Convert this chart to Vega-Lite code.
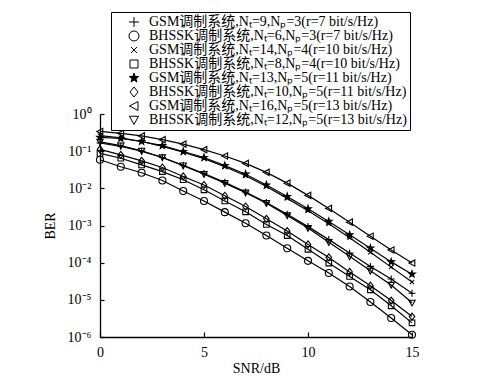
{
  "$schema": "https://vega.github.io/schema/vega-lite/v6.json",
  "autosize": "none",
  "width": 312,
  "height": 223,
  "padding": {"left": 100, "top": 114, "right": 77, "bottom": 42},
  "background": "white",
  "config": {
    "view": {"stroke": null},
    "axis": {
      "domainColor": "black", "tickColor": "black", "labelColor": "black", "titleColor": "black",
      "labelFont": "Liberation Serif", "titleFont": "Liberation Serif",
      "labelFontSize": 14, "titleFontSize": 14, "titleFontWeight": "normal",
      "grid": false, "domainWidth": 1.3, "tickWidth": 1.2
    },
    "legend": {
      "labelFont": "Liberation Serif, Noto Sans CJK SC", "labelFontSize": 14, "labelColor": "black",
      "strokeColor": "black", "fillColor": "white"
    }
  },
  "data": {"values": [
    {"s":"GSM调制系统,Nₜ=9,Nₚ=3(r=7 bit/s/Hz)","x":0,"y":1.66e-1},
    {"s":"GSM调制系统,Nₜ=9,Nₚ=3(r=7 bit/s/Hz)","x":1,"y":1.35e-1},
    {"s":"GSM调制系统,Nₜ=9,Nₚ=3(r=7 bit/s/Hz)","x":2,"y":1.00e-1},
    {"s":"GSM调制系统,Nₜ=9,Nₚ=3(r=7 bit/s/Hz)","x":3,"y":6.76e-2},
    {"s":"GSM调制系统,Nₜ=9,Nₚ=3(r=7 bit/s/Hz)","x":4,"y":4.17e-2},
    {"s":"GSM调制系统,Nₜ=9,Nₚ=3(r=7 bit/s/Hz)","x":5,"y":2.51e-2},
    {"s":"GSM调制系统,Nₜ=9,Nₚ=3(r=7 bit/s/Hz)","x":6,"y":1.45e-2},
    {"s":"GSM调制系统,Nₜ=9,Nₚ=3(r=7 bit/s/Hz)","x":7,"y":7.94e-3},
    {"s":"GSM调制系统,Nₜ=9,Nₚ=3(r=7 bit/s/Hz)","x":8,"y":4.17e-3},
    {"s":"GSM调制系统,Nₜ=9,Nₚ=3(r=7 bit/s/Hz)","x":9,"y":2.00e-3},
    {"s":"GSM调制系统,Nₜ=9,Nₚ=3(r=7 bit/s/Hz)","x":10,"y":9.33e-4},
    {"s":"GSM调制系统,Nₜ=9,Nₚ=3(r=7 bit/s/Hz)","x":11,"y":4.17e-4},
    {"s":"GSM调制系统,Nₜ=9,Nₚ=3(r=7 bit/s/Hz)","x":12,"y":1.82e-4},
    {"s":"GSM调制系统,Nₜ=9,Nₚ=3(r=7 bit/s/Hz)","x":13,"y":7.94e-5},
    {"s":"GSM调制系统,Nₜ=9,Nₚ=3(r=7 bit/s/Hz)","x":14,"y":3.63e-5},
    {"s":"GSM调制系统,Nₜ=9,Nₚ=3(r=7 bit/s/Hz)","x":15,"y":1.51e-5},
    {"s":"BHSSK调制系统,Nₜ=6,Nₚ=3(r=7 bit/s/Hz)","x":0,"y":5.89e-2},
    {"s":"BHSSK调制系统,Nₜ=6,Nₚ=3(r=7 bit/s/Hz)","x":1,"y":3.80e-2},
    {"s":"BHSSK调制系统,Nₜ=6,Nₚ=3(r=7 bit/s/Hz)","x":2,"y":2.63e-2},
    {"s":"BHSSK调制系统,Nₜ=6,Nₚ=3(r=7 bit/s/Hz)","x":3,"y":1.62e-2},
    {"s":"BHSSK调制系统,Nₜ=6,Nₚ=3(r=7 bit/s/Hz)","x":4,"y":8.51e-3},
    {"s":"BHSSK调制系统,Nₜ=6,Nₚ=3(r=7 bit/s/Hz)","x":5,"y":4.57e-3},
    {"s":"BHSSK调制系统,Nₜ=6,Nₚ=3(r=7 bit/s/Hz)","x":6,"y":2.29e-3},
    {"s":"BHSSK调制系统,Nₜ=6,Nₚ=3(r=7 bit/s/Hz)","x":7,"y":1.15e-3},
    {"s":"BHSSK调制系统,Nₜ=6,Nₚ=3(r=7 bit/s/Hz)","x":8,"y":5.37e-4},
    {"s":"BHSSK调制系统,Nₜ=6,Nₚ=3(r=7 bit/s/Hz)","x":9,"y":2.45e-4},
    {"s":"BHSSK调制系统,Nₜ=6,Nₚ=3(r=7 bit/s/Hz)","x":10,"y":1.12e-4},
    {"s":"BHSSK调制系统,Nₜ=6,Nₚ=3(r=7 bit/s/Hz)","x":11,"y":5.25e-5},
    {"s":"BHSSK调制系统,Nₜ=6,Nₚ=3(r=7 bit/s/Hz)","x":12,"y":2.29e-5},
    {"s":"BHSSK调制系统,Nₜ=6,Nₚ=3(r=7 bit/s/Hz)","x":13,"y":8.71e-6},
    {"s":"BHSSK调制系统,Nₜ=6,Nₚ=3(r=7 bit/s/Hz)","x":14,"y":3.24e-6},
    {"s":"BHSSK调制系统,Nₜ=6,Nₚ=3(r=7 bit/s/Hz)","x":15,"y":1.15e-6},
    {"s":"GSM调制系统,Nₜ=14,Nₚ=4(r=10 bit/s/Hz)","x":0,"y":2.63e-1},
    {"s":"GSM调制系统,Nₜ=14,Nₚ=4(r=10 bit/s/Hz)","x":1,"y":2.29e-1},
    {"s":"GSM调制系统,Nₜ=14,Nₚ=4(r=10 bit/s/Hz)","x":2,"y":1.82e-1},
    {"s":"GSM调制系统,Nₜ=14,Nₚ=4(r=10 bit/s/Hz)","x":3,"y":1.35e-1},
    {"s":"GSM调制系统,Nₜ=14,Nₚ=4(r=10 bit/s/Hz)","x":4,"y":9.33e-2},
    {"s":"GSM调制系统,Nₜ=14,Nₚ=4(r=10 bit/s/Hz)","x":5,"y":6.31e-2},
    {"s":"GSM调制系统,Nₜ=14,Nₚ=4(r=10 bit/s/Hz)","x":6,"y":3.80e-2},
    {"s":"GSM调制系统,Nₜ=14,Nₚ=4(r=10 bit/s/Hz)","x":7,"y":2.19e-2},
    {"s":"GSM调制系统,Nₜ=14,Nₚ=4(r=10 bit/s/Hz)","x":8,"y":1.12e-2},
    {"s":"GSM调制系统,Nₜ=14,Nₚ=4(r=10 bit/s/Hz)","x":9,"y":5.37e-3},
    {"s":"GSM调制系统,Nₜ=14,Nₚ=4(r=10 bit/s/Hz)","x":10,"y":2.51e-3},
    {"s":"GSM调制系统,Nₜ=14,Nₚ=4(r=10 bit/s/Hz)","x":11,"y":1.12e-3},
    {"s":"GSM调制系统,Nₜ=14,Nₚ=4(r=10 bit/s/Hz)","x":12,"y":4.68e-4},
    {"s":"GSM调制系统,Nₜ=14,Nₚ=4(r=10 bit/s/Hz)","x":13,"y":1.91e-4},
    {"s":"GSM调制系统,Nₜ=14,Nₚ=4(r=10 bit/s/Hz)","x":14,"y":7.59e-5},
    {"s":"GSM调制系统,Nₜ=14,Nₚ=4(r=10 bit/s/Hz)","x":15,"y":3.02e-5},
    {"s":"BHSSK调制系统,Nₜ=8,Nₚ=4(r=10 bit/s/Hz)","x":0,"y":8.71e-2},
    {"s":"BHSSK调制系统,Nₜ=8,Nₚ=4(r=10 bit/s/Hz)","x":1,"y":6.46e-2},
    {"s":"BHSSK调制系统,Nₜ=8,Nₚ=4(r=10 bit/s/Hz)","x":2,"y":4.27e-2},
    {"s":"BHSSK调制系统,Nₜ=8,Nₚ=4(r=10 bit/s/Hz)","x":3,"y":2.82e-2},
    {"s":"BHSSK调制系统,Nₜ=8,Nₚ=4(r=10 bit/s/Hz)","x":4,"y":1.70e-2},
    {"s":"BHSSK调制系统,Nₜ=8,Nₚ=4(r=10 bit/s/Hz)","x":5,"y":9.12e-3},
    {"s":"BHSSK调制系统,Nₜ=8,Nₚ=4(r=10 bit/s/Hz)","x":6,"y":4.57e-3},
    {"s":"BHSSK调制系统,Nₜ=8,Nₚ=4(r=10 bit/s/Hz)","x":7,"y":2.34e-3},
    {"s":"BHSSK调制系统,Nₜ=8,Nₚ=4(r=10 bit/s/Hz)","x":8,"y":1.07e-3},
    {"s":"BHSSK调制系统,Nₜ=8,Nₚ=4(r=10 bit/s/Hz)","x":9,"y":5.37e-4},
    {"s":"BHSSK调制系统,Nₜ=8,Nₚ=4(r=10 bit/s/Hz)","x":10,"y":2.29e-4},
    {"s":"BHSSK调制系统,Nₜ=8,Nₚ=4(r=10 bit/s/Hz)","x":11,"y":9.77e-5},
    {"s":"BHSSK调制系统,Nₜ=8,Nₚ=4(r=10 bit/s/Hz)","x":12,"y":4.27e-5},
    {"s":"BHSSK调制系统,Nₜ=8,Nₚ=4(r=10 bit/s/Hz)","x":13,"y":1.86e-5},
    {"s":"BHSSK调制系统,Nₜ=8,Nₚ=4(r=10 bit/s/Hz)","x":14,"y":6.92e-6},
    {"s":"BHSSK调制系统,Nₜ=8,Nₚ=4(r=10 bit/s/Hz)","x":15,"y":2.40e-6},
    {"s":"GSM调制系统,Nₜ=13,Nₚ=5(r=11 bit/s/Hz)","x":0,"y":2.34e-1},
    {"s":"GSM调制系统,Nₜ=13,Nₚ=5(r=11 bit/s/Hz)","x":1,"y":2.19e-1},
    {"s":"GSM调制系统,Nₜ=13,Nₚ=5(r=11 bit/s/Hz)","x":2,"y":1.82e-1},
    {"s":"GSM调制系统,Nₜ=13,Nₚ=5(r=11 bit/s/Hz)","x":3,"y":1.41e-1},
    {"s":"GSM调制系统,Nₜ=13,Nₚ=5(r=11 bit/s/Hz)","x":4,"y":9.77e-2},
    {"s":"GSM调制系统,Nₜ=13,Nₚ=5(r=11 bit/s/Hz)","x":5,"y":6.76e-2},
    {"s":"GSM调制系统,Nₜ=13,Nₚ=5(r=11 bit/s/Hz)","x":6,"y":4.07e-2},
    {"s":"GSM调制系统,Nₜ=13,Nₚ=5(r=11 bit/s/Hz)","x":7,"y":2.40e-2},
    {"s":"GSM调制系统,Nₜ=13,Nₚ=5(r=11 bit/s/Hz)","x":8,"y":1.23e-2},
    {"s":"GSM调制系统,Nₜ=13,Nₚ=5(r=11 bit/s/Hz)","x":9,"y":6.03e-3},
    {"s":"GSM调制系统,Nₜ=13,Nₚ=5(r=11 bit/s/Hz)","x":10,"y":2.82e-3},
    {"s":"GSM调制系统,Nₜ=13,Nₚ=5(r=11 bit/s/Hz)","x":11,"y":1.29e-3},
    {"s":"GSM调制系统,Nₜ=13,Nₚ=5(r=11 bit/s/Hz)","x":12,"y":5.62e-4},
    {"s":"GSM调制系统,Nₜ=13,Nₚ=5(r=11 bit/s/Hz)","x":13,"y":2.45e-4},
    {"s":"GSM调制系统,Nₜ=13,Nₚ=5(r=11 bit/s/Hz)","x":14,"y":1.05e-4},
    {"s":"GSM调制系统,Nₜ=13,Nₚ=5(r=11 bit/s/Hz)","x":15,"y":4.90e-5},
    {"s":"BHSSK调制系统,Nₜ=10,Nₚ=5(r=11 bit/s/Hz)","x":0,"y":1.12e-1},
    {"s":"BHSSK调制系统,Nₜ=10,Nₚ=5(r=11 bit/s/Hz)","x":1,"y":7.94e-2},
    {"s":"BHSSK调制系统,Nₜ=10,Nₚ=5(r=11 bit/s/Hz)","x":2,"y":5.50e-2},
    {"s":"BHSSK调制系统,Nₜ=10,Nₚ=5(r=11 bit/s/Hz)","x":3,"y":3.63e-2},
    {"s":"BHSSK调制系统,Nₜ=10,Nₚ=5(r=11 bit/s/Hz)","x":4,"y":2.09e-2},
    {"s":"BHSSK调制系统,Nₜ=10,Nₚ=5(r=11 bit/s/Hz)","x":5,"y":1.23e-2},
    {"s":"BHSSK调制系统,Nₜ=10,Nₚ=5(r=11 bit/s/Hz)","x":6,"y":6.31e-3},
    {"s":"BHSSK调制系统,Nₜ=10,Nₚ=5(r=11 bit/s/Hz)","x":7,"y":3.24e-3},
    {"s":"BHSSK调制系统,Nₜ=10,Nₚ=5(r=11 bit/s/Hz)","x":8,"y":1.51e-3},
    {"s":"BHSSK调制系统,Nₜ=10,Nₚ=5(r=11 bit/s/Hz)","x":9,"y":7.08e-4},
    {"s":"BHSSK调制系统,Nₜ=10,Nₚ=5(r=11 bit/s/Hz)","x":10,"y":3.09e-4},
    {"s":"BHSSK调制系统,Nₜ=10,Nₚ=5(r=11 bit/s/Hz)","x":11,"y":1.38e-4},
    {"s":"BHSSK调制系统,Nₜ=10,Nₚ=5(r=11 bit/s/Hz)","x":12,"y":5.62e-5},
    {"s":"BHSSK调制系统,Nₜ=10,Nₚ=5(r=11 bit/s/Hz)","x":13,"y":2.40e-5},
    {"s":"BHSSK调制系统,Nₜ=10,Nₚ=5(r=11 bit/s/Hz)","x":14,"y":9.55e-6},
    {"s":"BHSSK调制系统,Nₜ=10,Nₚ=5(r=11 bit/s/Hz)","x":15,"y":3.55e-6},
    {"s":"GSM调制系统,Nₜ=16,Nₚ=5(r=13 bit/s/Hz)","x":0,"y":3.39e-1},
    {"s":"GSM调制系统,Nₜ=16,Nₚ=5(r=13 bit/s/Hz)","x":1,"y":3.02e-1},
    {"s":"GSM调制系统,Nₜ=16,Nₚ=5(r=13 bit/s/Hz)","x":2,"y":2.57e-1},
    {"s":"GSM调制系统,Nₜ=16,Nₚ=5(r=13 bit/s/Hz)","x":3,"y":2.04e-1},
    {"s":"GSM调制系统,Nₜ=16,Nₚ=5(r=13 bit/s/Hz)","x":4,"y":1.55e-1},
    {"s":"GSM调制系统,Nₜ=16,Nₚ=5(r=13 bit/s/Hz)","x":5,"y":1.10e-1},
    {"s":"GSM调制系统,Nₜ=16,Nₚ=5(r=13 bit/s/Hz)","x":6,"y":7.41e-2},
    {"s":"GSM调制系统,Nₜ=16,Nₚ=5(r=13 bit/s/Hz)","x":7,"y":4.68e-2},
    {"s":"GSM调制系统,Nₜ=16,Nₚ=5(r=13 bit/s/Hz)","x":8,"y":2.69e-2},
    {"s":"GSM调制系统,Nₜ=16,Nₚ=5(r=13 bit/s/Hz)","x":9,"y":1.38e-2},
    {"s":"GSM调制系统,Nₜ=16,Nₚ=5(r=13 bit/s/Hz)","x":10,"y":6.46e-3},
    {"s":"GSM调制系统,Nₜ=16,Nₚ=5(r=13 bit/s/Hz)","x":11,"y":2.88e-3},
    {"s":"GSM调制系统,Nₜ=16,Nₚ=5(r=13 bit/s/Hz)","x":12,"y":1.23e-3},
    {"s":"GSM调制系统,Nₜ=16,Nₚ=5(r=13 bit/s/Hz)","x":13,"y":5.13e-4},
    {"s":"GSM调制系统,Nₜ=16,Nₚ=5(r=13 bit/s/Hz)","x":14,"y":2.19e-4},
    {"s":"GSM调制系统,Nₜ=16,Nₚ=5(r=13 bit/s/Hz)","x":15,"y":9.77e-5},
    {"s":"BHSSK调制系统,Nₜ=12,Nₚ=5(r=13 bit/s/Hz)","x":0,"y":1.78e-1},
    {"s":"BHSSK调制系统,Nₜ=12,Nₚ=5(r=13 bit/s/Hz)","x":1,"y":1.41e-1},
    {"s":"BHSSK调制系统,Nₜ=12,Nₚ=5(r=13 bit/s/Hz)","x":2,"y":1.02e-1},
    {"s":"BHSSK调制系统,Nₜ=12,Nₚ=5(r=13 bit/s/Hz)","x":3,"y":6.76e-2},
    {"s":"BHSSK调制系统,Nₜ=12,Nₚ=5(r=13 bit/s/Hz)","x":4,"y":4.07e-2},
    {"s":"BHSSK调制系统,Nₜ=12,Nₚ=5(r=13 bit/s/Hz)","x":5,"y":2.40e-2},
    {"s":"BHSSK调制系统,Nₜ=12,Nₚ=5(r=13 bit/s/Hz)","x":6,"y":1.38e-2},
    {"s":"BHSSK调制系统,Nₜ=12,Nₚ=5(r=13 bit/s/Hz)","x":7,"y":7.59e-3},
    {"s":"BHSSK调制系统,Nₜ=12,Nₚ=5(r=13 bit/s/Hz)","x":8,"y":3.98e-3},
    {"s":"BHSSK调制系统,Nₜ=12,Nₚ=5(r=13 bit/s/Hz)","x":9,"y":1.86e-3},
    {"s":"BHSSK调制系统,Nₜ=12,Nₚ=5(r=13 bit/s/Hz)","x":10,"y":8.51e-4},
    {"s":"BHSSK调制系统,Nₜ=12,Nₚ=5(r=13 bit/s/Hz)","x":11,"y":3.55e-4},
    {"s":"BHSSK调制系统,Nₜ=12,Nₚ=5(r=13 bit/s/Hz)","x":12,"y":1.48e-4},
    {"s":"BHSSK调制系统,Nₜ=12,Nₚ=5(r=13 bit/s/Hz)","x":13,"y":6.03e-5},
    {"s":"BHSSK调制系统,Nₜ=12,Nₚ=5(r=13 bit/s/Hz)","x":14,"y":2.51e-5},
    {"s":"BHSSK调制系统,Nₜ=12,Nₚ=5(r=13 bit/s/Hz)","x":15,"y":8.32e-6}
  ]},
  "layer": [
    {
      "mark": {"type": "line", "stroke": "black", "strokeWidth": 1.2},
      "encoding": {
        "x": {"field": "x", "type": "quantitative", "scale": {"domain": [0, 15], "nice": false},
          "axis": {"title": "SNR/dB", "values": [0, 5, 10, 15], "tickSize": -5, "labelPadding": 13, "titlePadding": 2, "labelFlush": false}},
        "y": {"field": "y", "type": "quantitative", "scale": {"type": "log", "domain": [1e-6, 1], "nice": false},
          "axis": {"title": "BER", "values": [1e-6, 1e-5, 1e-4, 1e-3, 1e-2, 1e-1, 1], "tickSize": -4, "labelPadding": 13, "titlePadding": 10, "labelFlush": false,
            "labelExpr": "['10⁰','10⁻¹','10⁻²','10⁻³','10⁻⁴','10⁻⁵','10⁻⁶'][round(-log(datum.value)/LN10)]"}},
        "detail": {"field": "s", "type": "nominal"}
      }
    },
    {
      "mark": {"type": "point", "filled": true, "stroke": "black", "strokeWidth": 1.1, "size": 49, "opacity": 1},
      "encoding": {
        "x": {"field": "x", "type": "quantitative"},
        "y": {"field": "y", "type": "quantitative"},
        "fill": {"field": "s", "type": "nominal", "legend": null,
          "scale": {
            "domain": ["GSM调制系统,Nₜ=9,Nₚ=3(r=7 bit/s/Hz)","BHSSK调制系统,Nₜ=6,Nₚ=3(r=7 bit/s/Hz)","GSM调制系统,Nₜ=14,Nₚ=4(r=10 bit/s/Hz)","BHSSK调制系统,Nₜ=8,Nₚ=4(r=10 bit/s/Hz)","GSM调制系统,Nₜ=13,Nₚ=5(r=11 bit/s/Hz)","BHSSK调制系统,Nₜ=10,Nₚ=5(r=11 bit/s/Hz)","GSM调制系统,Nₜ=16,Nₚ=5(r=13 bit/s/Hz)","BHSSK调制系统,Nₜ=12,Nₚ=5(r=13 bit/s/Hz)"],
            "range": ["transparent","transparent","transparent","transparent","black","transparent","transparent","transparent"]
          }
        },
        "shape": {"field": "s", "type": "nominal",
          "scale": {
            "domain": ["GSM调制系统,Nₜ=9,Nₚ=3(r=7 bit/s/Hz)","BHSSK调制系统,Nₜ=6,Nₚ=3(r=7 bit/s/Hz)","GSM调制系统,Nₜ=14,Nₚ=4(r=10 bit/s/Hz)","BHSSK调制系统,Nₜ=8,Nₚ=4(r=10 bit/s/Hz)","GSM调制系统,Nₜ=13,Nₚ=5(r=11 bit/s/Hz)","BHSSK调制系统,Nₜ=10,Nₚ=5(r=11 bit/s/Hz)","GSM调制系统,Nₜ=16,Nₚ=5(r=13 bit/s/Hz)","BHSSK调制系统,Nₜ=12,Nₚ=5(r=13 bit/s/Hz)"],
            "range": [
              "M-1,0L1,0M0,-1L0,1",
              "M1,0A1,1 0 1,1 -1,0A1,1 0 1,1 1,0Z",
              "M-0.6,-0.6L0.6,0.6M-0.6,0.6L0.6,-0.6",
              "M-0.8,-0.8L0.8,-0.8L0.8,0.8L-0.8,0.8Z",
              "M0,-1L0.235,-0.324L0.951,-0.309L0.38,0.124L0.588,0.809L0,0.4L-0.588,0.809L-0.38,0.124L-0.951,-0.309L-0.235,-0.324Z",
              "M0,-1L0.8,0L0,1L-0.8,0Z",
              "M-0.9,0L0.8,-0.9L0.8,0.9Z",
              "M-0.9,-0.75L0.9,-0.75L0,0.9Z"
            ]
          },
          "legend": {
            "title": null,
            "orient": "none",
            "legendX": 11,
            "legendY": -102,
            "strokeColor": "black",
            "fillColor": "white",
            "padding": 3,
            "rowPadding": -2,
            "symbolSize": 100,
            "symbolOffset": 13,
            "symbolStrokeColor": "black",
            "symbolStrokeWidth": 1,
            "symbolFillColor": "transparent",
            "labelOffset": 8,
            "labelLimit": 400,
            "encode": {
              "legend": {"stroke": {"value": "black"}, "strokeWidth": {"value": 1}, "fill": {"value": "white"}}
            }
          }
        }
      }
    }
  ]
}
